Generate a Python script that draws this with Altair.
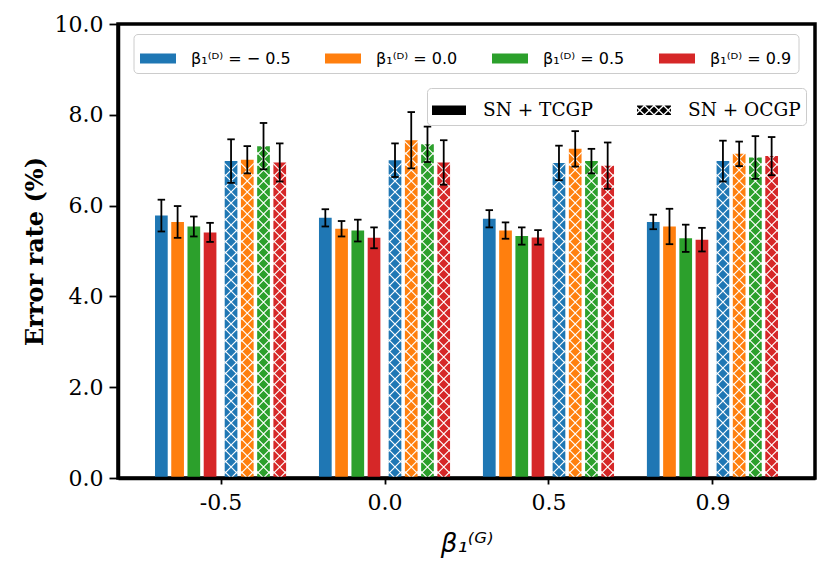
import altair as alt
import pandas as pd

# ---------------- data ----------------
groups = ["-0.5", "0.0", "0.5", "0.9"]                     # beta_1^(G) tick labels
series = ["β₁⁽ᴰ⁾ = − 0.5", "β₁⁽ᴰ⁾ = 0.0", "β₁⁽ᴰ⁾ = 0.5", "β₁⁽ᴰ⁾ = 0.9"]
methods = ["SN + TCGP", "SN + OCGP"]
colors = ["#1f77b4", "#ff7f0e", "#2ca02c", "#d62728"]

# [group][series]
tcgp_mean = [[5.78, 5.64, 5.54, 5.41],
             [5.73, 5.49, 5.45, 5.29],
             [5.71, 5.45, 5.33, 5.30],
             [5.64, 5.54, 5.28, 5.25]]
tcgp_err = [[0.35, 0.35, 0.22, 0.21],
            [0.19, 0.17, 0.24, 0.23],
            [0.19, 0.18, 0.19, 0.16],
            [0.16, 0.39, 0.30, 0.26]]
ocgp_mean = [[6.98, 7.01, 7.31, 6.95],
             [7.00, 7.44, 7.35, 6.95],
             [6.94, 7.25, 6.98, 6.88],
             [6.98, 7.14, 7.06, 7.09]]
ocgp_err = [[0.48, 0.30, 0.51, 0.42],
            [0.37, 0.62, 0.39, 0.49],
            [0.38, 0.39, 0.27, 0.51],
            [0.45, 0.27, 0.47, 0.42]]

rows = []
for gi, g in enumerate(groups):
    for mi, (means, errs) in enumerate([(tcgp_mean, tcgp_err), (ocgp_mean, ocgp_err)]):
        for si, s in enumerate(series):
            rows.append(dict(group=g, gi=gi, method=methods[mi], mi=mi,
                             series=s, si=si, mean=means[gi][si], err=errs[gi][si]))
df = pd.DataFrame(rows)

# ---------------- styles ----------------
RECT = "M-1,-0.28H1V0.28H-1Z"
XSHAPE = "M-1.2,-1.2L1.2,1.2M-1.2,1.2L1.2,-1.2"


def clip_poly(pts, W, H):
    def clip(poly, inside, inter):
        out = []
        n = len(poly)
        for i in range(n):
            cur, prev = poly[i], poly[i - 1]
            if inside(cur):
                if not inside(prev):
                    out.append(inter(prev, cur))
                out.append(cur)
            elif inside(prev):
                out.append(inter(prev, cur))
        return out

    def ix(p, q, xv):
        t = (xv - p[0]) / (q[0] - p[0])
        return (xv, p[1] + t * (q[1] - p[1]))

    def iy(p, q, yv):
        t = (yv - p[1]) / (q[1] - p[1])
        return (p[0] + t * (q[0] - p[0]), yv)

    poly = pts
    for inside, inter in [
        (lambda p: p[0] >= 0, lambda a, b: ix(a, b, 0)),
        (lambda p: p[0] <= W, lambda a, b: ix(a, b, W)),
        (lambda p: p[1] >= 0, lambda a, b: iy(a, b, 0)),
        (lambda p: p[1] <= H, lambda a, b: iy(a, b, H)),
    ]:
        if not poly:
            break
        poly = clip(poly, inside, inter)
    return poly


def hatched_rect_path(W=34.0, H=9.5, d=9.5, g=0.9):
    half = W / 2
    polys = []
    for k in range(-4, 5):
        cx = W / 2 + k * d
        r = d / 2 - g
        polys.append([(cx - r, H / 2), (cx, H / 2 - r), (cx + r, H / 2), (cx, H / 2 + r)])
        cx2 = cx + d / 2
        for cy in (0.0, H):
            polys.append([(cx2 - r, cy), (cx2, cy - r), (cx2 + r, cy), (cx2, cy + r)])
    parts = []
    for p in polys:
        c = clip_poly(p, W, H)
        if len(c) >= 3:
            s = "M" + "L".join(f"{(x - half) / half:.3f},{(y - H / 2) / half:.3f}" for x, y in c) + "Z"
            parts.append(s)
    return "".join(parts)


HATCHED = hatched_rect_path()

PERIOD = 11 / 45.4  # hatch period in data units

xscale = alt.Scale(domain=[-0.595, 3.595], nice=False, zero=False)
yscale = alt.Scale(domain=[0, 10], nice=False, zero=True)

label_expr = "[" + ",".join(f"'{g}'" for g in groups) + "][datum.value]"

xaxis = alt.Axis(values=list(range(len(groups))), labelExpr=label_expr,
                 title="β₁⁽ᴳ⁾", titleFont="DejaVu Sans", titleFontStyle="italic",
                 titleFontWeight="normal", titleFontSize=26, titlePadding=17,
                 titleColor="black",
                 labelFont="DejaVu Serif", labelFontSize=22, labelPadding=8,
                 labelColor="black", labelAngle=0, labelFlush=False, labelOverlap=False,
                 tickSize=6, tickWidth=1.8, tickColor="black",
                 domainColor="black", domainWidth=3.5, grid=False, zindex=1)
yaxis = alt.Axis(values=[0, 2, 4, 6, 8, 10], format=".1f",
                 title="Error rate (%)", titleFont="DejaVu Serif", titleFontWeight="bold",
                 titleFontSize=24, titlePadding=7, titleColor="black",
                 labelFont="DejaVu Serif", labelFontSize=22, labelPadding=6,
                 labelColor="black", labelFlush=False, labelOverlap=False,
                 tickSize=9, tickWidth=1.8, tickColor="black",
                 domainColor="black", domainWidth=3.5, grid=False, zindex=1)

X = alt.X("pos:Q", scale=xscale, axis=xaxis)

base = alt.Chart(df).transform_calculate(
    pos="datum.gi + (datum.mi == 0 ? -0.361 : 0.064) + datum.si * 0.099",
    lo="datum.mean - datum.err",
    hi="datum.mean + datum.err",
)

bars = base.mark_bar(orient="vertical", width=12.7).encode(
    x=X,
    y=alt.Y("mean:Q", scale=yscale, axis=yaxis, stack=None),
    color=alt.Color("series:N", scale=alt.Scale(domain=series, range=colors),
                    legend=alt.Legend(orient="none", legendX=15.5, legendY=10,
                                      direction="horizontal", columns=4, title=None,
                                      symbolType=RECT, symbolSize=1296,
                                      symbolStrokeWidth=0, symbolOpacity=1,
                                      labelFont="DejaVu Sans", labelFontSize=16,
                                      labelColor="black", labelOffset=15,
                                      labelLimit=400, columnPadding=34, padding=6.5,
                                      strokeColor="#cccccc", fillColor="white",
                                      cornerRadius=4)),
)

hatch = base.transform_filter("datum.mi == 1").transform_calculate(
    levels=f"sequence(0, datum.mean, {PERIOD})"
).transform_flatten(["levels"]).mark_point(
    shape=XSHAPE, size=121, filled=False, color="white", strokeWidth=1.2,
    opacity=1, clip=True
).encode(
    x=X,
    y=alt.Y("levels:Q", scale=yscale, axis=yaxis),
)

rules = base.mark_rule(color="black", strokeWidth=1.8).encode(
    x=X,
    y=alt.Y("lo:Q", scale=yscale, axis=yaxis),
    y2="hi:Q",
)

caps = base.transform_fold(["lo", "hi"], as_=["end", "val"]).mark_tick(
    orient="horizontal", size=7.5, thickness=1.8, color="black", opacity=1
).encode(
    x=X,
    y=alt.Y("val:Q", scale=yscale, axis=yaxis),
)

method_legend = alt.Chart(df).transform_filter("false").mark_point(
    filled=True, color="black", opacity=1
).encode(
    shape=alt.Shape("method:N", scale=alt.Scale(domain=methods, range=[RECT, HATCHED]),
                    legend=alt.Legend(orient="none", legendX=309, legendY=64,
                                      direction="horizontal", columns=2, title=None,
                                      symbolSize=1156, symbolFillColor="black",
                                      symbolStrokeWidth=0, symbolOpacity=1,
                                      labelFont="DejaVu Serif", labelFontSize=18.5,
                                      labelColor="black", labelOffset=17,
                                      labelLimit=400, columnPadding=44, padding=5,
                                      strokeColor="#cccccc", fillColor="white",
                                      cornerRadius=4)),
)

chart = alt.layer(bars, hatch, rules, caps, method_legend).properties(
    width=697, height=454,
    autosize=alt.AutoSizeParams(type="none"),
    padding={"left": 118, "top": 24, "right": 23, "bottom": 95},
    background="white",
).configure_view(stroke="black", strokeWidth=3.5)

chart.save("out.html", embed_options={"renderer": "svg", "actions": False})
